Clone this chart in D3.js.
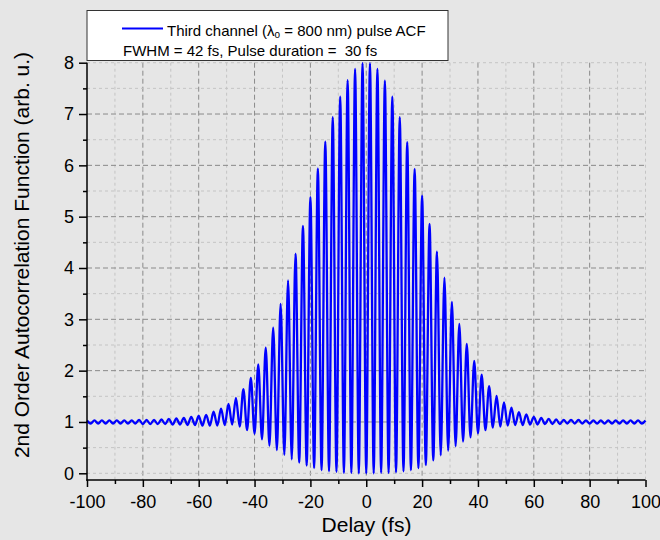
<!DOCTYPE html>
<html><head><meta charset="utf-8">
<script src="https://cdn.jsdelivr.net/npm/d3@7"></script>
<style>
html,body{margin:0;padding:0;background:#e6e6e6;}
svg{display:block;font-family:Arial,"Liberation Sans",sans-serif;}
</style>
</head><body>
<svg id="chart" width="660" height="540"></svg>
<script>
const delay = [
 -100,-98.67,-97.33,-96,-94.67,-93.33,-92,-90.67,-89.33,-88,-86.67,-85.33,-84,-82.67,-81.33,-80,
 -78.67,-77.33,-76,-74.67,-73.33,-72,-70.67,-69.33,-68,-66.67,-65.33,-64,-62.67,-61.33,-60,-58.67,
 -57.33,-56,-54.67,-53.33,-52,-50.67,-49.33,-48,-46.67,-45.33,-44,-42.67,-41.33,-40,-38.67,-37.33,
 -36,-34.67,-33.33,-32,-30.67,-29.33,-28,-26.67,-25.33,-24,-22.67,-21.33,-20,-18.67,-17.33,-16,
 -14.67,-13.33,-12,-10.67,-9.33,-8,-6.67,-5.33,-4,-2.67,-1.33,
 0,
 1.33,2.67,4,5.33,6.67,8,9.33,10.67,12,13.33,14.67,16,17.33,18.67,20,21.33,22.67,24,25.33,26.67,
 28,29.33,30.67,32,33.33,34.67,36,37.33,38.67,40,41.33,42.67,44,45.33,46.67,48,49.33,50.67,52,53.33,
 54.67,56,57.33,58.67,60,61.33,62.67,64,65.33,66.67,68,69.33,70.67,72,73.33,74.67,76,77.33,78.67,80,
 81.33,82.67,84,85.33,86.67,88,89.33,90.67,92,93.33,94.67,96,97.33,98.67,100
];
const acf = [
 1.03,0.97,1.03,0.97,1.03,0.97,1.03,0.97,1.03,0.97,1.03,0.97,1.03,0.97,1.04,0.96,
 1.04,0.96,1.04,0.96,1.05,0.96,1.06,0.95,1.07,0.95,1.08,0.94,1.10,0.94,1.12,0.93,
 1.14,0.93,1.20,0.93,1.26,0.94,1.35,0.95,1.47,0.91,1.64,0.84,1.86,0.77,2.12,0.66,
 2.45,0.54,2.84,0.45,3.30,0.36,3.76,0.27,4.28,0.21,4.82,0.15,5.38,0.10,5.94,0.06,
 6.46,0.04,6.94,0.03,7.34,0.01,7.66,0.01,7.88,0.00,7.99,
 0.00,
 7.99,0.00,7.88,0.01,7.65,0.01,7.34,0.02,6.94,0.04,6.45,0.06,5.93,0.10,5.41,0.16,4.86,0.25,4.32,0.35,
 3.81,0.44,3.34,0.53,2.91,0.62,2.52,0.70,2.19,0.78,1.92,0.84,1.70,0.89,1.51,0.91,1.38,0.93,1.28,0.94,
 1.19,0.94,1.15,0.95,1.10,0.95,1.08,0.96,1.06,0.96,1.05,0.96,1.04,0.97,1.04,0.97,1.04,0.97,1.03,0.97,
 1.03,0.97,1.03,0.97,1.03,0.97,1.03,0.97,1.03,0.97,1.03,0.97,1.03,0.97,1.03
];
const xMajorTicks = [-100,-80,-60,-40,-20,0,20,40,60,80,100];
const xMinorTicks = [-90,-70,-50,-30,-10,10,30,50,70,90];
const yMajorTicks = [0,1,2,3,4,5,6,7,8];
const yMinorTicks = [0.5,1.5,2.5,3.5,4.5,5.5,6.5,7.5];
const xTitle = "Delay (fs)";
const yTitle = "2nd Order Autocorrelation Function (arb. u.)";
const legendLine1a = "Third channel (\u03bb";
const legendLine1sub = "o";
const legendLine1b = " = 800 nm) pulse ACF";
const legendLine2 = "FWHM = 42 fs, Pulse duration =  30 fs";

const svg = d3.select("#chart");
const L = 87, R = 645.5, T = 62.7, B0 = 473.3, AX = 480;
const x = d3.scaleLinear().domain([-100, 100]).range([L, R]);
const y = d3.scaleLinear().domain([0, 8]).range([B0, T]);

svg.append("rect").attr("width", 660).attr("height", 540).attr("fill", "#e6e6e6");

// grid
const g = svg.append("g");
const majorStyle = s => s.attr("stroke", "#8a8a8a").attr("stroke-width", 1).attr("stroke-dasharray", "5,3");
const minorStyle = s => s.attr("stroke", "#c4c4c4").attr("stroke-width", 1).attr("stroke-dasharray", "3,3");
g.selectAll(".vmin").data(xMinorTicks.concat([100])).join("line")
  .attr("x1", d => x(d)).attr("x2", d => x(d)).attr("y1", T).attr("y2", AX).call(minorStyle);
g.selectAll(".vmaj").data(xMajorTicks.filter(d => d > -100 && d < 100)).join("line")
  .attr("x1", d => x(d)).attr("x2", d => x(d)).attr("y1", T).attr("y2", AX).call(majorStyle);
g.selectAll(".hmin").data(yMinorTicks.concat([0, 8])).join("line")
  .attr("y1", d => y(d)).attr("y2", d => y(d)).attr("x1", L).attr("x2", R).call(minorStyle);
g.selectAll(".hmaj").data(yMajorTicks.filter(d => d > 0 && d < 8)).join("line")
  .attr("y1", d => y(d)).attr("y2", d => y(d)).attr("x1", L).attr("x2", R).call(majorStyle);

// curve
const pts = delay.map((d, i) => [d, acf[i]]);
const lineGen = d3.line().x(d => x(d[0])).y(d => y(d[1])).curve(d3.curveMonotoneX);
svg.append("path").datum(pts)
  .attr("fill", "none").attr("stroke", "#0000ff").attr("stroke-width", 2.3)
  .attr("stroke-linejoin", "round")
  .attr("d", lineGen);

// axes
const fs = 18;
const fmt = d => String(d);
svg.append("g").attr("transform", `translate(${L},0)`)
  .call(d3.axisLeft(y).tickValues(yMajorTicks).tickSize(8).tickPadding(5).tickFormat(fmt));
svg.append("g").attr("transform", `translate(${L},0)`)
  .call(d3.axisLeft(y).tickValues(yMinorTicks).tickSize(4).tickFormat(""));
svg.append("g").attr("transform", `translate(0,${AX})`)
  .call(d3.axisBottom(x).tickValues(xMajorTicks).tickSize(7).tickPadding(8).tickFormat(fmt));
svg.append("g").attr("transform", `translate(0,${AX})`)
  .call(d3.axisBottom(x).tickValues(xMinorTicks).tickSize(4).tickFormat(""));
svg.selectAll(".domain").remove();
svg.selectAll(".tick line").attr("stroke", "#000").attr("stroke-width", 1.5);
svg.selectAll(".tick text").attr("font-size", fs).attr("font-family", "Arial, 'Liberation Sans', sans-serif").attr("fill", "#000");
svg.append("line").attr("x1", L).attr("x2", L).attr("y1", T).attr("y2", AX + 0.75).attr("stroke", "#000").attr("stroke-width", 1.5);
svg.append("line").attr("x1", L - 0.75).attr("x2", R).attr("y1", AX).attr("y2", AX).attr("stroke", "#000").attr("stroke-width", 1.5);

// titles
svg.append("text").attr("x", 366.5).attr("y", 532).attr("text-anchor", "middle")
  .attr("font-size", 21).attr("fill", "#000").text(xTitle);
svg.append("text").attr("transform", "translate(28.5,255) rotate(-90)").attr("text-anchor", "middle")
  .attr("font-size", 21).attr("fill", "#000").text(yTitle);

// legend
svg.append("rect").attr("x", 87).attr("y", 10.5).attr("width", 361).attr("height", 50)
  .attr("fill", "#fff").attr("stroke", "#333").attr("stroke-width", 1);
svg.append("line").attr("x1", 122).attr("x2", 163).attr("y1", 28.5).attr("y2", 28.5)
  .attr("stroke", "#0000ff").attr("stroke-width", 1.8);
const t1 = svg.append("text").attr("x", 167).attr("y", 35.5).attr("font-size", 15).attr("fill", "#000");
t1.append("tspan").text(legendLine1a);
t1.append("tspan").attr("font-size", 10).attr("dy", 2).text(legendLine1sub);
t1.append("tspan").attr("dy", -2).text(legendLine1b);
svg.append("text").attr("x", 123).attr("y", 55.5).attr("font-size", 15).attr("fill", "#000")
  .attr("xml:space", "preserve").style("white-space", "pre").text(legendLine2);
</script>
</body></html>
